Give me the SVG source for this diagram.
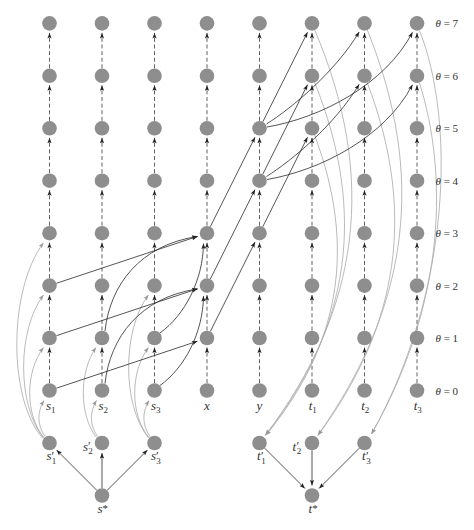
<svg xmlns="http://www.w3.org/2000/svg" width="474" height="530" viewBox="0 0 474 530">
<defs>
<marker id="ak" viewBox="-6 -3 7 6" markerWidth="7" markerHeight="6" refX="0" refY="0" orient="auto" markerUnits="userSpaceOnUse"><path d="M0,0 L-5.5,-2.1 L-4.4,0 L-5.5,2.1 Z" fill="#222"/></marker>
<marker id="ag" viewBox="-6 -3 7 6" markerWidth="7" markerHeight="6" refX="0" refY="0" orient="auto" markerUnits="userSpaceOnUse"><path d="M0,0 L-5.5,-2.1 L-4.4,0 L-5.5,2.1 Z" fill="#999"/></marker>
<style>
.n{fill:#8e8e8e}
.d{stroke:#3a3a3a;stroke-width:0.8;stroke-dasharray:4 2.6;fill:none;marker-end:url(#ak)}
.k{stroke:#2a2a2a;stroke-width:0.8;fill:none;marker-end:url(#ak)}
.g{stroke:#a8a8a8;stroke-width:0.8;fill:none;marker-end:url(#ag)}
text{font-family:"Liberation Serif","DejaVu Serif",serif;font-size:13px;font-style:italic;fill:#333}
.sb{font-size:9px;font-style:normal}
.pr{font-size:12px;font-style:normal}
.st{font-size:11px;font-style:normal}
.th{font-size:11px}
.up{font-style:normal}
</style>
</defs>
<rect width="474" height="530" fill="#fff"/>
<g id="connectors">
<g id="dashed">
<line class="d" x1="49.5" y1="383" x2="49.5" y2="347.5"/><line class="d" x1="49.5" y1="330.5" x2="49.5" y2="295.1"/><line class="d" x1="49.5" y1="278.1" x2="49.5" y2="242.7"/><line class="d" x1="49.5" y1="225.7" x2="49.5" y2="190.2"/><line class="d" x1="49.5" y1="173.2" x2="49.5" y2="137.8"/><line class="d" x1="49.5" y1="120.8" x2="49.5" y2="85.3"/><line class="d" x1="49.5" y1="68.3" x2="49.5" y2="32.9"/>
<line class="d" x1="102" y1="383" x2="102" y2="347.5"/><line class="d" x1="102" y1="330.5" x2="102" y2="295.1"/><line class="d" x1="102" y1="278.1" x2="102" y2="242.7"/><line class="d" x1="102" y1="225.7" x2="102" y2="190.2"/><line class="d" x1="102" y1="173.2" x2="102" y2="137.8"/><line class="d" x1="102" y1="120.8" x2="102" y2="85.3"/><line class="d" x1="102" y1="68.3" x2="102" y2="32.9"/>
<line class="d" x1="154.5" y1="383" x2="154.5" y2="347.5"/><line class="d" x1="154.5" y1="330.5" x2="154.5" y2="295.1"/><line class="d" x1="154.5" y1="278.1" x2="154.5" y2="242.7"/><line class="d" x1="154.5" y1="225.7" x2="154.5" y2="190.2"/><line class="d" x1="154.5" y1="173.2" x2="154.5" y2="137.8"/><line class="d" x1="154.5" y1="120.8" x2="154.5" y2="85.3"/><line class="d" x1="154.5" y1="68.3" x2="154.5" y2="32.9"/>
<line class="d" x1="207" y1="383" x2="207" y2="347.5"/><line class="d" x1="207" y1="330.5" x2="207" y2="295.1"/><line class="d" x1="207" y1="278.1" x2="207" y2="242.7"/><line class="d" x1="207" y1="225.7" x2="207" y2="190.2"/><line class="d" x1="207" y1="173.2" x2="207" y2="137.8"/><line class="d" x1="207" y1="120.8" x2="207" y2="85.3"/><line class="d" x1="207" y1="68.3" x2="207" y2="32.9"/>
<line class="d" x1="259.5" y1="383" x2="259.5" y2="347.5"/><line class="d" x1="259.5" y1="330.5" x2="259.5" y2="295.1"/><line class="d" x1="259.5" y1="278.1" x2="259.5" y2="242.7"/><line class="d" x1="259.5" y1="225.7" x2="259.5" y2="190.2"/><line class="d" x1="259.5" y1="173.2" x2="259.5" y2="137.8"/><line class="d" x1="259.5" y1="120.8" x2="259.5" y2="85.3"/><line class="d" x1="259.5" y1="68.3" x2="259.5" y2="32.9"/>
<line class="d" x1="312" y1="383" x2="312" y2="347.5"/><line class="d" x1="312" y1="330.5" x2="312" y2="295.1"/><line class="d" x1="312" y1="278.1" x2="312" y2="242.7"/><line class="d" x1="312" y1="225.7" x2="312" y2="190.2"/><line class="d" x1="312" y1="173.2" x2="312" y2="137.8"/><line class="d" x1="312" y1="120.8" x2="312" y2="85.3"/><line class="d" x1="312" y1="68.3" x2="312" y2="32.9"/>
<line class="d" x1="364.5" y1="383" x2="364.5" y2="347.5"/><line class="d" x1="364.5" y1="330.5" x2="364.5" y2="295.1"/><line class="d" x1="364.5" y1="278.1" x2="364.5" y2="242.7"/><line class="d" x1="364.5" y1="225.7" x2="364.5" y2="190.2"/><line class="d" x1="364.5" y1="173.2" x2="364.5" y2="137.8"/><line class="d" x1="364.5" y1="120.8" x2="364.5" y2="85.3"/><line class="d" x1="364.5" y1="68.3" x2="364.5" y2="32.9"/>
<line class="d" x1="417" y1="383" x2="417" y2="347.5"/><line class="d" x1="417" y1="330.5" x2="417" y2="295.1"/><line class="d" x1="417" y1="278.1" x2="417" y2="242.7"/><line class="d" x1="417" y1="225.7" x2="417" y2="190.2"/><line class="d" x1="417" y1="173.2" x2="417" y2="137.8"/><line class="d" x1="417" y1="120.8" x2="417" y2="85.3"/><line class="d" x1="417" y1="68.3" x2="417" y2="32.9"/>
</g>
<g id="gray-left">
<path class="g" d="M45,436.5 C37,425 37,412 44,400.5"/>
<path class="g" d="M44,437.5 C25,415 25,372 43.5,347.5"/>
<path class="g" d="M43.5,438 C17,405 17,330 43.5,295"/>
<path class="g" d="M43,438.5 C8,400 8,290 43.5,242.8"/>
<path class="g" d="M97.5,436.5 C89.5,425 89.5,412 96.5,400.5"/>
<path class="g" d="M96.5,437.5 C79,415 79,372 96,347.5"/>
<path class="g" d="M150,436.5 C142,425 142,412 149,400.5"/>
<path class="g" d="M149,437.5 C130,415 130,372 148.5,347.5"/>
<path class="g" d="M148.5,438 C122,405 122,330 148.5,295"/>
</g>
<g id="gray-right">
<path class="g" d="M314.8,30.1 C377.3,177.9 360.7,309.3 265.2,435.4"/>
<path class="g" d="M314.7,82.6 C366.9,212.5 350.5,327.3 265.7,435.1"/>
<path class="g" d="M314.6,135.1 C356.7,247.5 340.4,344.7 265.9,435.3"/>
<path class="g" d="M367.3,30.1 C426,175 410,305 317.7,435.4"/>
<path class="g" d="M367.2,82.6 C416,210 400,325 318.2,435.1"/>
<path class="g" d="M419.5,30.5 C455,120 452,290 371.5,434"/>
<path class="g" d="M419.5,83 C447,170 448,300 371.5,434"/>
</g>
<g id="black">
<line class="k" x1="56.4" y1="283.3" x2="197.5" y2="236.4"/>
<line class="k" x1="56.4" y1="335.7" x2="197.5" y2="288.8"/>
<line class="k" x1="56.4" y1="388.2" x2="197.5" y2="341.2"/>
<path class="k" d="M105,331 C110,285 140,245 197.5,236.5"/>
<path class="k" d="M105,383.5 C110,337.5 140,297.5 197.5,288.9"/>
<path class="k" d="M160,333 C185,315 203,280 203.5,243.5"/>
<path class="k" d="M160,385.5 C185,367.5 203,332.5 203.5,296"/>
<line class="k" x1="210.3" y1="226.7" x2="255" y2="137.2"/>
<line class="k" x1="210.3" y1="279.1" x2="255" y2="189.6"/>
<line class="k" x1="210.3" y1="331.5" x2="255" y2="242.1"/>
<line class="k" x1="262.8" y1="121.8" x2="307.5" y2="32.3"/>
<line class="k" x1="262.8" y1="174.2" x2="307.5" y2="84.7"/>
<line class="k" x1="262.8" y1="226.7" x2="307.5" y2="137.2"/>
<path class="k" d="M266.5,124 C292,108 335,72 359.2,32"/>
<path class="k" d="M266.5,176.5 C292,160.5 335,124.5 359.2,84.3"/>
<path class="k" d="M267,127 C320,118 385,85 412.5,32.3"/>
<path class="k" d="M267,179.5 C320,170.5 385,137.5 412.5,84.7"/>
<line class="k" x1="96.8" y1="490.3" x2="56.6" y2="450.1"/>
<line class="k" x1="102" y1="488.2" x2="102" y2="453"/>
<line class="k" x1="107.2" y1="490.3" x2="147.4" y2="450.1"/>
<line class="k" x1="264.7" y1="448.2" x2="304.9" y2="488.4"/>
<line class="k" x1="312" y1="450.3" x2="312" y2="485.5"/>
<line class="k" x1="359.3" y1="448.2" x2="319.1" y2="488.4"/>
</g>
</g>
<g id="nodes">
<g id="s1-0"><circle class="n" cx="49.5" cy="390.5" r="7.3"/><text x="46" y="410">s<tspan class="sb" dy="3">1</tspan></text></g>
<g id="s1-1"><circle class="n" cx="49.5" cy="338" r="7.3"/></g>
<g id="s1-2"><circle class="n" cx="49.5" cy="285.6" r="7.3"/></g>
<g id="s1-3"><circle class="n" cx="49.5" cy="233.2" r="7.3"/></g>
<g id="s1-4"><circle class="n" cx="49.5" cy="180.7" r="7.3"/></g>
<g id="s1-5"><circle class="n" cx="49.5" cy="128.3" r="7.3"/></g>
<g id="s1-6"><circle class="n" cx="49.5" cy="75.8" r="7.3"/></g>
<g id="s1-7"><circle class="n" cx="49.5" cy="23.4" r="7.3"/></g>
<g id="s2-0"><circle class="n" cx="102" cy="390.5" r="7.3"/><text x="98.5" y="410">s<tspan class="sb" dy="3">2</tspan></text></g>
<g id="s2-1"><circle class="n" cx="102" cy="338" r="7.3"/></g>
<g id="s2-2"><circle class="n" cx="102" cy="285.6" r="7.3"/></g>
<g id="s2-3"><circle class="n" cx="102" cy="233.2" r="7.3"/></g>
<g id="s2-4"><circle class="n" cx="102" cy="180.7" r="7.3"/></g>
<g id="s2-5"><circle class="n" cx="102" cy="128.3" r="7.3"/></g>
<g id="s2-6"><circle class="n" cx="102" cy="75.8" r="7.3"/></g>
<g id="s2-7"><circle class="n" cx="102" cy="23.4" r="7.3"/></g>
<g id="s3-0"><circle class="n" cx="154.5" cy="390.5" r="7.3"/><text x="151" y="410">s<tspan class="sb" dy="3">3</tspan></text></g>
<g id="s3-1"><circle class="n" cx="154.5" cy="338" r="7.3"/></g>
<g id="s3-2"><circle class="n" cx="154.5" cy="285.6" r="7.3"/></g>
<g id="s3-3"><circle class="n" cx="154.5" cy="233.2" r="7.3"/></g>
<g id="s3-4"><circle class="n" cx="154.5" cy="180.7" r="7.3"/></g>
<g id="s3-5"><circle class="n" cx="154.5" cy="128.3" r="7.3"/></g>
<g id="s3-6"><circle class="n" cx="154.5" cy="75.8" r="7.3"/></g>
<g id="s3-7"><circle class="n" cx="154.5" cy="23.4" r="7.3"/></g>
<g id="x-0"><circle class="n" cx="207" cy="390.5" r="7.3"/><text x="207" y="410" text-anchor="middle">x</text></g>
<g id="x-1"><circle class="n" cx="207" cy="338" r="7.3"/></g>
<g id="x-2"><circle class="n" cx="207" cy="285.6" r="7.3"/></g>
<g id="x-3"><circle class="n" cx="207" cy="233.2" r="7.3"/></g>
<g id="x-4"><circle class="n" cx="207" cy="180.7" r="7.3"/></g>
<g id="x-5"><circle class="n" cx="207" cy="128.3" r="7.3"/></g>
<g id="x-6"><circle class="n" cx="207" cy="75.8" r="7.3"/></g>
<g id="x-7"><circle class="n" cx="207" cy="23.4" r="7.3"/></g>
<g id="y-0"><circle class="n" cx="259.5" cy="390.5" r="7.3"/><text x="259.5" y="410" text-anchor="middle">y</text></g>
<g id="y-1"><circle class="n" cx="259.5" cy="338" r="7.3"/></g>
<g id="y-2"><circle class="n" cx="259.5" cy="285.6" r="7.3"/></g>
<g id="y-3"><circle class="n" cx="259.5" cy="233.2" r="7.3"/></g>
<g id="y-4"><circle class="n" cx="259.5" cy="180.7" r="7.3"/></g>
<g id="y-5"><circle class="n" cx="259.5" cy="128.3" r="7.3"/></g>
<g id="y-6"><circle class="n" cx="259.5" cy="75.8" r="7.3"/></g>
<g id="y-7"><circle class="n" cx="259.5" cy="23.4" r="7.3"/></g>
<g id="t1-0"><circle class="n" cx="312" cy="390.5" r="7.3"/><text x="308.7" y="410">t<tspan class="sb" dy="3">1</tspan></text></g>
<g id="t1-1"><circle class="n" cx="312" cy="338" r="7.3"/></g>
<g id="t1-2"><circle class="n" cx="312" cy="285.6" r="7.3"/></g>
<g id="t1-3"><circle class="n" cx="312" cy="233.2" r="7.3"/></g>
<g id="t1-4"><circle class="n" cx="312" cy="180.7" r="7.3"/></g>
<g id="t1-5"><circle class="n" cx="312" cy="128.3" r="7.3"/></g>
<g id="t1-6"><circle class="n" cx="312" cy="75.8" r="7.3"/></g>
<g id="t1-7"><circle class="n" cx="312" cy="23.4" r="7.3"/></g>
<g id="t2-0"><circle class="n" cx="364.5" cy="390.5" r="7.3"/><text x="361.2" y="410">t<tspan class="sb" dy="3">2</tspan></text></g>
<g id="t2-1"><circle class="n" cx="364.5" cy="338" r="7.3"/></g>
<g id="t2-2"><circle class="n" cx="364.5" cy="285.6" r="7.3"/></g>
<g id="t2-3"><circle class="n" cx="364.5" cy="233.2" r="7.3"/></g>
<g id="t2-4"><circle class="n" cx="364.5" cy="180.7" r="7.3"/></g>
<g id="t2-5"><circle class="n" cx="364.5" cy="128.3" r="7.3"/></g>
<g id="t2-6"><circle class="n" cx="364.5" cy="75.8" r="7.3"/></g>
<g id="t2-7"><circle class="n" cx="364.5" cy="23.4" r="7.3"/></g>
<g id="t3-0"><circle class="n" cx="417" cy="390.5" r="7.3"/><text x="413.7" y="410">t<tspan class="sb" dy="3">3</tspan></text></g>
<g id="t3-1"><circle class="n" cx="417" cy="338" r="7.3"/></g>
<g id="t3-2"><circle class="n" cx="417" cy="285.6" r="7.3"/></g>
<g id="t3-3"><circle class="n" cx="417" cy="233.2" r="7.3"/></g>
<g id="t3-4"><circle class="n" cx="417" cy="180.7" r="7.3"/></g>
<g id="t3-5"><circle class="n" cx="417" cy="128.3" r="7.3"/></g>
<g id="t3-6"><circle class="n" cx="417" cy="75.8" r="7.3"/></g>
<g id="t3-7"><circle class="n" cx="417" cy="23.4" r="7.3"/></g>
<g id="s1p"><circle class="n" cx="49.5" cy="443" r="7.3"/><text x="46.5" y="460">s<tspan class="pr" x="51.6" dy="-0.5">′</tspan><tspan class="sb" x="51.8" dy="4">1</tspan></text></g>
<g id="s2p"><circle class="n" cx="102" cy="443" r="7.3"/><text x="83" y="450.5">s<tspan class="pr" x="88.1" dy="-0.5">′</tspan><tspan class="sb" x="88.3" dy="4">2</tspan></text></g>
<g id="s3p"><circle class="n" cx="154.5" cy="443" r="7.3"/><text x="151" y="460">s<tspan class="pr" x="156.1" dy="-0.5">′</tspan><tspan class="sb" x="156.3" dy="4">3</tspan></text></g>
<g id="sstar"><circle class="n" cx="102" cy="495.5" r="7.3"/><text x="97.5" y="513">s<tspan class="st" dy="-1">*</tspan></text></g>
<g id="t1p"><circle class="n" cx="259.5" cy="443" r="7.3"/><text x="257" y="460">t<tspan class="pr" x="261.1" dy="-0.5">′</tspan><tspan class="sb" x="261.3" dy="4">1</tspan></text></g>
<g id="t2p"><circle class="n" cx="312" cy="443" r="7.3"/><text x="292.5" y="450.5">t<tspan class="pr" x="296.6" dy="-0.5">′</tspan><tspan class="sb" x="296.8" dy="4">2</tspan></text></g>
<g id="t3p"><circle class="n" cx="364.5" cy="443" r="7.3"/><text x="362" y="460">t<tspan class="pr" x="366.1" dy="-0.5">′</tspan><tspan class="sb" x="366.3" dy="4">3</tspan></text></g>
<g id="tstar"><circle class="n" cx="312" cy="495.5" r="7.3"/><text x="308.5" y="513">t<tspan class="st" dy="-1">*</tspan></text></g>
</g>
<g id="theta-labels">
<text class="th" x="435.5" y="27.4">θ<tspan class="up"> = 7</tspan></text>
<text class="th" x="435.5" y="79.8">θ<tspan class="up"> = 6</tspan></text>
<text class="th" x="435.5" y="132.3">θ<tspan class="up"> = 5</tspan></text>
<text class="th" x="435.5" y="184.7">θ<tspan class="up"> = 4</tspan></text>
<text class="th" x="435.5" y="237.2">θ<tspan class="up"> = 3</tspan></text>
<text class="th" x="435.5" y="289.6">θ<tspan class="up"> = 2</tspan></text>
<text class="th" x="435.5" y="342">θ<tspan class="up"> = 1</tspan></text>
<text class="th" x="435.5" y="394.5">θ<tspan class="up"> = 0</tspan></text>
</g>
</svg>
